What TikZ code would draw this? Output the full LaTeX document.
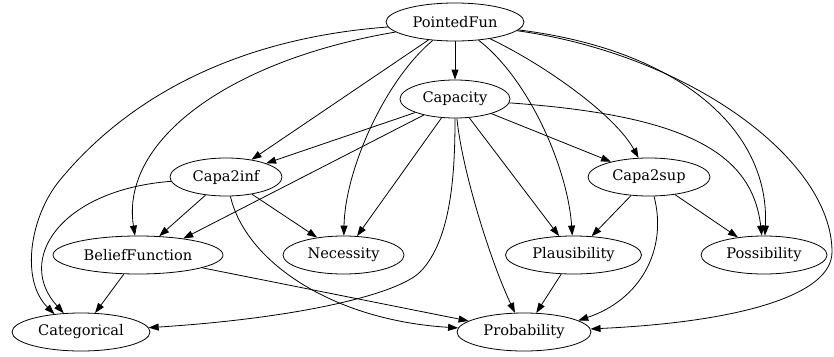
\documentclass[tikz,border=0pt]{standalone}
\usepackage{fontspec}
\setmainfont{DejaVu Serif}
\usetikzlibrary{shapes.geometric,arrows.meta}
\tikzset{
  gnode/.style={draw, ellipse, inner sep=0pt, line width=0.8pt, font=\fontsize{14.6}{17}\selectfont},
  gedge/.style={draw, line width=0.8pt, -{Triangle[length=10pt,width=7pt]}},
}
\begin{document}
\begin{tikzpicture}[x=1pt,y=-1pt]
\useasboundingbox (0,0) rectangle (834,356);
\node[gnode, minimum width=138pt, minimum height=38pt] (PF) at (455,22) {PointedFun};
\node[gnode, minimum width=110pt, minimum height=38pt] (Cap) at (455,99) {Capacity};
\node[gnode, minimum width=112pt, minimum height=38pt] (C2i) at (226,177) {Capa2inf};
\node[gnode, minimum width=122pt, minimum height=38pt] (C2s) at (649,177) {Capa2sup};
\node[gnode, minimum width=170pt, minimum height=38pt] (BF) at (138,255) {BeliefFunction};
\node[gnode, minimum width=121pt, minimum height=38pt] (Nec) at (343.5,255) {Necessity};
\node[gnode, minimum width=136pt, minimum height=38pt] (Pla) at (573.5,255) {Plausibility};
\node[gnode, minimum width=126pt, minimum height=38pt] (Pos) at (764,255) {Possibility};
\node[gnode, minimum width=138pt, minimum height=38pt] (Cat) at (81,332) {Categorical};
\node[gnode, minimum width=134pt, minimum height=38pt] (Pro) at (524,332) {Probability};

% PointedFun
\path[gedge] (PF) -- (Cap);
\path[gedge] (PF) -- (C2i);
\path[gedge] (PF) .. controls (545,65) and (615,115) .. (C2s);
\path[gedge] (PF) .. controls (230,60) and (120,140) .. (BF);
\path[gedge] (PF) .. controls (240,38) and (130,95) .. (60,180) .. controls (30,216) and (20,280) .. (Cat.146);
\path[gedge] (PF) .. controls (385,80) and (345,170) .. (Nec);
\path[gedge] (PF) .. controls (530,80) and (568,170) .. (Pla);
\path[gedge] (PF) .. controls (680,50) and (770,130) .. (Pos);
\path[gedge] (PF) .. controls (690,55) and (832,160) .. (832,252) .. controls (832,295) and (740,322) .. (Pro);

% Capacity
\path[gedge] (Cap) -- (C2i);
\path[gedge] (Cap) -- (C2s);
\path[gedge] (Cap) -- (BF.20);
\path[gedge] (Cap) -- (Nec);
\path[gedge] (Cap) -- (Pla);
\path[gedge] (Cap) .. controls (462,170) and (490,260) .. (Pro);
\path[gedge] (Cap) .. controls (455,170) and (452,240) .. (420,272) .. controls (398,294) and (300,318) .. (Cat);
\path[gedge] (Cap) .. controls (680,115) and (752,150) .. (Pos);

% Capa2inf
\path[gedge] (C2i) -- (BF);
\path[gedge] (C2i) -- (Nec);
\path[gedge] (C2i) .. controls (60,190) and (15,260) .. (Cat);
\path[gedge] (C2i) .. controls (245,260) and (330,320) .. (Pro);

% BeliefFunction
\path[gedge] (BF) -- (Cat);
\path[gedge] (BF) -- (Pro);

% Capa2sup
\path[gedge] (C2s) -- (Pla);
\path[gedge] (C2s) -- (Pos);
\path[gedge] (C2s) .. controls (668,250) and (640,300) .. (Pro.12);

% Plausibility
\path[gedge] (Pla) -- (Pro);
\end{tikzpicture}
\end{document}
